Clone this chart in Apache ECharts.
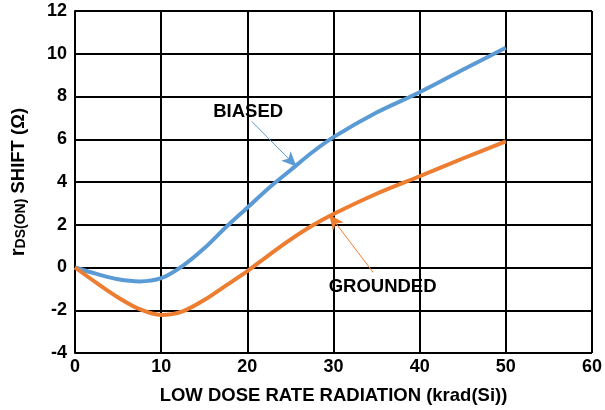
<!DOCTYPE html>
<html>
<head>
<meta charset="utf-8">
<script src="https://cdn.jsdelivr.net/npm/echarts@6/dist/echarts.min.js"></script>
<style>html,body{margin:0;padding:0;background:#fff}#c{width:605px;height:410px}</style>
</head>
<body>
<div id="c"></div>
<script>
const doseX = [0, 2.5, 5, 7.5, 10, 12.5, 15, 17.5, 20, 22.5, 25, 27.5, 30, 35, 40, 45, 50];
const biased = [0, -0.30, -0.55, -0.65, -0.5, 0.08, 0.9, 1.88, 2.8, 3.72, 4.55, 5.38, 6.1, 7.25, 8.2, 9.25, 10.28];
const grounded = [0, -0.72, -1.4, -1.95, -2.22, -2.05, -1.52, -0.85, -0.17, 0.58, 1.3, 1.95, 2.5, 3.45, 4.27, 5.1, 5.9];
const xTicks = [0, 10, 20, 30, 40, 50, 60];
const yTicks = [-4, -2, 0, 2, 4, 6, 8, 10, 12];
const biasedLabel = {text: 'BIASED', at: [20.1, 7.29]};
const groundedLabel = {text: 'GROUNDED', at: [35.7, -0.89]};
const biasedArrow = {from: [20.5, 6.84], to: [25.7, 4.72]};
const groundedArrow = {from: [34.6, -0.23], to: [29.5, 2.48]};

const FONT = '"Liberation Sans", Arial, sans-serif';
const BLUE = '#5b9bd5', ORANGE = '#ed7d31';

function pairs(xs, ys) { return xs.map((x, i) => [x, ys[i]]); }

function annot(label, arrow, color) {
  return {
    markPoint: {
      symbol: 'circle', symbolSize: 1, silent: true, animation: false,
      itemStyle: {color: 'rgba(0,0,0,0)'},
      label: {show: true, position: 'inside', formatter: label.text, color: '#000',
        fontFamily: FONT, fontWeight: 'bold', fontSize: 18.5},
      data: [{coord: label.at}]
    },
    markLine: {
      silent: true, animation: false, symbol: ['none', 'arrow'], symbolSize: [10, 15],
      lineStyle: {color: color, width: 1, type: 'solid'},
      label: {show: false},
      data: [[{coord: arrow.from}, {coord: arrow.to}]]
    }
  };
}

const chart = echarts.init(document.getElementById('c'), null, {renderer: 'canvas'});
chart.setOption({
  animation: false,
  grid: {left: 71, right: 11, top: 11, bottom: 57, containLabel: false},
  xAxis: {
    type: 'value', min: xTicks[0], max: xTicks[xTicks.length - 1], interval: 10,
    name: 'LOW DOSE RATE RADIATION (krad(Si))', nameLocation: 'middle', nameGap: 33,
    nameTextStyle: {fontFamily: FONT, fontWeight: 'bold', fontSize: 18.5, color: '#000'},
    axisLine: {show: true, lineStyle: {color: '#000', width: 2}},
    axisTick: {show: false},
    axisLabel: {fontFamily: FONT, fontWeight: 'bold', fontSize: 18, color: '#000', margin: 5},
    splitLine: {show: true, lineStyle: {color: '#000', width: 2}}
  },
  yAxis: {
    type: 'value', min: yTicks[0], max: yTicks[yTicks.length - 1], interval: 2,
    name: '{r|r}{s|DS(ON)}{n| SHIFT (Ω)}', nameLocation: 'middle', nameGap: 47, nameRotate: 90,
    nameTextStyle: {fontFamily: FONT, fontWeight: 'bold', fontSize: 18.5, color: '#000',
      rich: {
        r: {fontFamily: FONT, fontWeight: 'bold', fontSize: 20, color: '#000', verticalAlign: 'bottom', lineHeight: 24},
        s: {fontFamily: FONT, fontWeight: 'bold', fontSize: 14, color: '#000', verticalAlign: 'bottom', lineHeight: 14},
        n: {fontFamily: FONT, fontWeight: 'bold', fontSize: 18.5, color: '#000', verticalAlign: 'bottom', lineHeight: 24}
      }},
    axisLine: {show: true, lineStyle: {color: '#000', width: 2}},
    axisTick: {show: false},
    axisLabel: {fontFamily: FONT, fontWeight: 'bold', fontSize: 18, color: '#000', margin: 8},
    splitLine: {show: true, lineStyle: {color: '#000', width: 2}}
  },
  series: [
    Object.assign({
      name: 'BIASED', type: 'line', smooth: 0.3, showSymbol: false, z: 3,
      data: pairs(doseX, biased),
      lineStyle: {color: BLUE, width: 4}, itemStyle: {color: BLUE}
    }, annot(biasedLabel, biasedArrow, BLUE)),
    Object.assign({
      name: 'GROUNDED', type: 'line', smooth: 0.3, showSymbol: false, z: 3,
      data: pairs(doseX, grounded),
      lineStyle: {color: ORANGE, width: 4}, itemStyle: {color: ORANGE}
    }, annot(groundedLabel, groundedArrow, ORANGE))
  ]
});
</script>
</body>
</html>
